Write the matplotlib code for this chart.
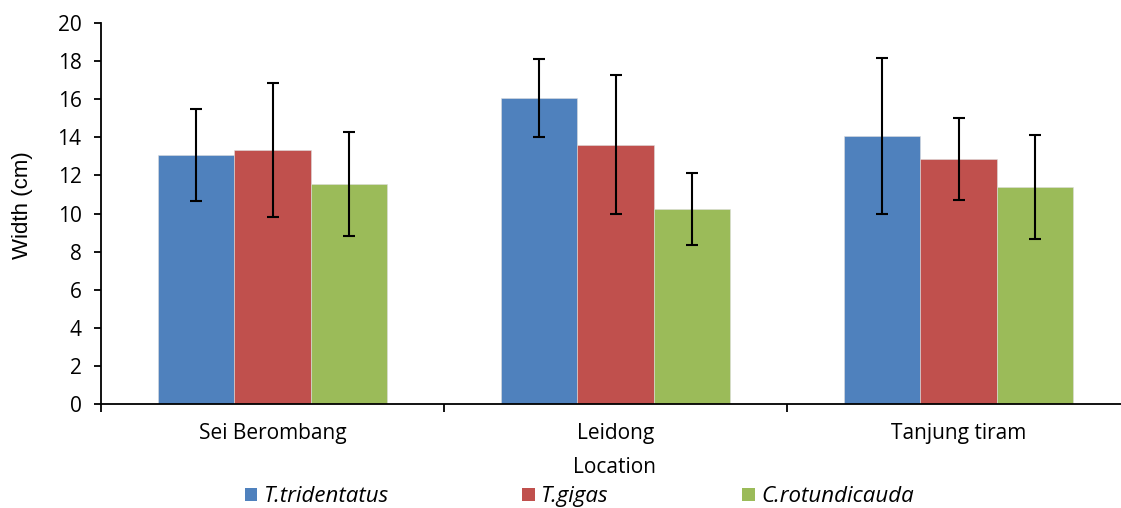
import numpy as np
import matplotlib.pyplot as plt
from matplotlib.patches import Patch

# data
locations = ['Sei Berombang', 'Leidong', 'Tanjung tiram']
species = ['T.tridentatus', 'T.gigas', 'C.rotundicauda']
width_mean = {
    'T.tridentatus': [13.07, 16.06, 14.07],
    'T.gigas': [13.33, 13.60, 12.86],
    'C.rotundicauda': [11.55, 10.24, 11.39],
}
width_sd = {
    'T.tridentatus': [2.42, 2.05, 4.10],
    'T.gigas': [3.52, 3.65, 2.15],
    'C.rotundicauda': [2.71, 1.89, 2.71],
}
colors = ['#4F81BD', '#C0504D', '#9BBB59']

plt.rcParams['font.family'] = ['Open Sans', 'DejaVu Sans']

fig = plt.figure(figsize=(11.21, 5.08), dpi=100)
ax = fig.add_axes([0.0901, 0.2047, 0.918, 0.750])

x = np.arange(len(locations))
bw = 0.223
for i, sp in enumerate(species):
    ax.bar(x + (i - 1) * bw, width_mean[sp], bw, color=colors[i],
           edgecolor='#dddddd', linewidth=0.4,
           yerr=width_sd[sp], capsize=4.5,
           error_kw=dict(ecolor='black', elinewidth=1.5, capthick=1.5))

ax.set_xlim(-0.5, len(locations) - 0.5)
ax.set_ylim(0, 20)
ax.set_yticks(np.arange(0, 21, 2))
ax.set_xticks(np.arange(-0.5, len(locations), 1.0))
ax.set_xticklabels([])
ax.set_xticks(x, minor=True)
ax.set_xticklabels(locations, minor=True)
ax.tick_params(axis='x', which='minor', length=0, pad=14, labelsize=15)
ax.tick_params(axis='x', which='major', length=6, width=1.3, direction='out')
ax.tick_params(axis='y', length=5, width=1.3, labelsize=15, pad=9)
for s in ['top', 'right']:
    ax.spines[s].set_visible(False)
ax.spines['left'].set_linewidth(1.3)
ax.spines['bottom'].set_linewidth(1.3)

ax.set_ylabel('Width (cm)', fontsize=16,
              fontfamily=['Liberation Sans', 'DejaVu Sans'])
ax.yaxis.set_label_coords(-0.066, 0.522)
fig.text(0.548, 0.08, 'Location', ha='center', va='center', fontsize=15)

handles = [Patch(facecolor=c) for c in colors]
fig.legend(handles, species, loc='center left',
           bbox_to_anchor=(245 / 1121, 0.022),
           ncol=3, frameon=False, prop={'style': 'italic', 'size': 16},
           handlelength=0.55, handleheight=0.55, handletextpad=0.3,
           columnspacing=6.0, borderpad=0, borderaxespad=0)

fig.savefig('out.png', dpi=100)
